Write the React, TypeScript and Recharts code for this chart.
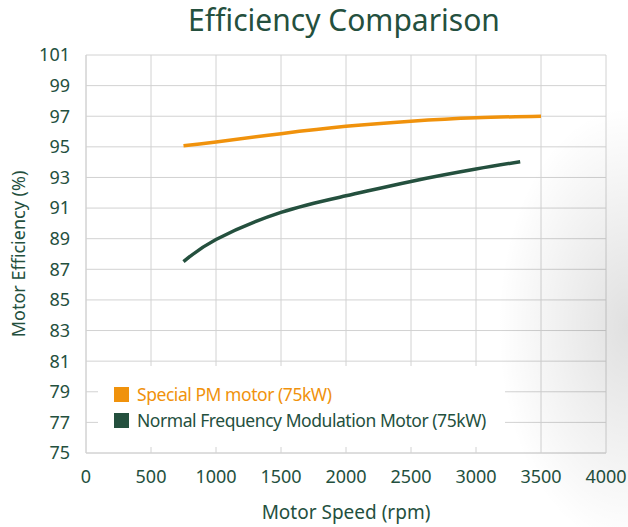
import { LineChart, Line, XAxis, YAxis, CartesianGrid, Label } from "recharts";

const FONT = "'Noto Sans', sans-serif";
const GREEN = "#24503e";
const ORANGE = "#f0920c";

const xTicks = [0, 500, 1000, 1500, 2000, 2500, 3000, 3500, 4000];
const yTicks = [75, 77, 79, 81, 83, 85, 87, 89, 91, 93, 95, 97, 99, 101];

const pmSpeed = [750, 1000, 1500, 2000, 2500, 3000, 3500];
const pmEff = [95.07, 95.32, 95.86, 96.34, 96.68, 96.9, 97.0];

const normalSpeed = [750, 1000, 1500, 2000, 2500, 3000, 3340];
const normalEff = [87.5, 88.95, 90.72, 91.8, 92.74, 93.55, 94.03];

const pmData = pmSpeed.map((s, i) => ({ speed: s, eff: pmEff[i] }));
const normalData = normalSpeed.map((s, i) => ({ speed: s, eff: normalEff[i] }));

const series = [
  { name: "Special PM motor (75kW)", color: ORANGE, data: pmData },
  { name: "Normal Frequency Modulation Motor (75kW)", color: GREEN, data: normalData },
];

function LegendBox() {
  return (
    <div
      style={{
        position: "absolute",
        left: 98,
        top: 366,
        width: 407,
        height: 81,
        paddingTop: 15,
        boxSizing: "border-box",
        background: "#fff",
        fontFamily: FONT,
      }}
    >
      {series.map((s) => (
        <div key={s.name} style={{ display: "flex", alignItems: "center", height: 26, paddingLeft: 16 }}>
          <span style={{ width: 15, height: 15, background: s.color, display: "inline-block", marginRight: 8, flex: "none" }} />
          <span style={{ color: s.color, fontSize: 17.5, letterSpacing: -0.45, whiteSpace: "nowrap" }}>{s.name}</span>
        </div>
      ))}
    </div>
  );
}

export default function App() {
  return (
    <div style={{ position: "absolute", left: 0, top: 0, width: 628, height: 527, background: "#fff", overflow: "hidden" }}>
      <div style={{ position: "absolute", top: -1, left: 0, width: 688, textAlign: "center", fontFamily: FONT, fontSize: 30, color: GREEN }}>
        Efficiency Comparison
      </div>
      <LineChart width={628} height={527} margin={{ top: 55, right: 22, bottom: 0, left: 0 }}>
        <CartesianGrid stroke="#d2d2d2" strokeWidth={1} />
        <XAxis
          type="number"
          dataKey="speed"
          domain={[0, 4000]}
          ticks={xTicks}
          interval={0}
          tickLine={false}
          axisLine={{ stroke: "#d2d2d2" }}
          tickMargin={11}
          height={74}
          tick={{ fill: GREEN, fontSize: 18, fontFamily: FONT }}
          allowDuplicatedCategory={false}
        >
          <Label
            content={() => (
              <text x={346} y={519} textAnchor="middle" fill={GREEN} fontSize={19} fontFamily={FONT}>
                Motor Speed (rpm)
              </text>
            )}
          />
        </XAxis>
        <YAxis
          type="number"
          domain={[75, 101]}
          ticks={yTicks}
          interval={0}
          tickLine={false}
          axisLine={{ stroke: "#d2d2d2" }}
          width={86}
          tickMargin={10}
          tick={{ fill: GREEN, fontSize: 18, fontFamily: FONT }}
        >
          <Label
            content={() => (
              <text x={25} y={254} transform="rotate(-90 25 254)" textAnchor="middle" fill={GREEN} fontSize={18} fontFamily={FONT}>
                Motor Efficiency (%)
              </text>
            )}
          />
        </YAxis>
        {series.map((s) => (
          <Line
            key={s.name}
            data={s.data}
            dataKey="eff"
            name={s.name}
            type="natural"
            stroke={s.color}
            strokeWidth={3.5}
            dot={false}
            isAnimationActive={false}
          />
        ))}
      </LineChart>
      <LegendBox />
      <div
        style={{
          position: "absolute",
          inset: 0,
          pointerEvents: "none",
          background: "radial-gradient(ellipse 130px 220px at 100% 62%, rgba(0,0,0,0.12), rgba(0,0,0,0) 100%)",
        }}
      />
    </div>
  );
}
